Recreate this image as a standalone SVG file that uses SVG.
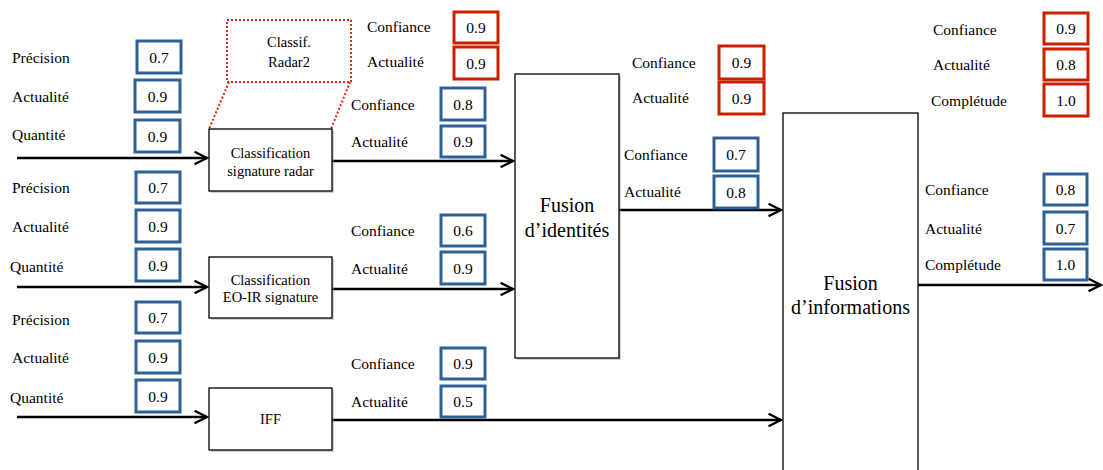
<svg xmlns="http://www.w3.org/2000/svg" width="1103" height="470" viewBox="0 0 1103 470">
<defs>
<style>
text{font-family:"Liberation Serif","Times New Roman",serif;fill:#000}
.lbl{font-size:15.5px}
.val{font-size:15.5px;text-anchor:middle}
.nt{font-size:14.5px;text-anchor:middle}
.big{font-size:20px;text-anchor:middle}
.vb{fill:#fff;stroke:#2e6096;stroke-width:3}
.vr{fill:#fff;stroke:#cc1f00;stroke-width:3}
.node{fill:#fff;stroke:#000;stroke-width:1.3}
.shadow{fill:#999;opacity:0.45}
.conn{stroke:#000;stroke-width:2.6;fill:none;marker-end:url(#arr)}
.dot{stroke:#d42a12;stroke-width:2;stroke-dasharray:2 2;fill:none}
</style>
<marker id="arr" viewBox="0 0 10 10" refX="9" refY="5" markerWidth="6" markerHeight="6" orient="auto" markerUnits="strokeWidth">
<path d="M1,1 L9,5 L1,9" fill="none" stroke="#000" stroke-width="1.5"/>
</marker>
</defs>

<g id="connectors">
<line class="conn" x1="17" y1="158" x2="207" y2="158"/>
<line class="conn" x1="17" y1="287" x2="207" y2="287"/>
<line class="conn" x1="17" y1="417" x2="207" y2="417"/>
<line class="conn" x1="332" y1="161" x2="513" y2="161"/>
<line class="conn" x1="332" y1="289" x2="513" y2="289"/>
<line class="conn" x1="332" y1="420" x2="781" y2="420"/>
<line class="conn" x1="619" y1="210" x2="781" y2="210"/>
<line class="conn" x1="918" y1="285" x2="1101" y2="285"/>
<line class="dot" x1="229" y1="82" x2="209" y2="129"/>
<line class="dot" x1="350" y1="82" x2="331" y2="129"/>
</g>

<g id="classif-radar2">
<rect class="dot" x="227" y="20" width="124" height="62"/>
<text class="nt" x="289" y="47">Classif.</text>
<text class="nt" x="289" y="67">Radar2</text>
</g>

<g id="classif-radar">
<rect class="shadow" x="211" y="131" width="123" height="62"/>
<rect class="node" x="209" y="129" width="123" height="62"/>
<text class="nt" x="270.5" y="158">Classification</text>
<text class="nt" x="270.5" y="176">signature radar</text>
</g>

<g id="classif-eoir">
<rect class="shadow" x="211" y="259" width="123" height="61"/>
<rect class="node" x="209" y="257" width="123" height="61"/>
<text class="nt" x="270.5" y="285">Classification</text>
<text class="nt" x="270.5" y="302">EO-IR signature</text>
</g>

<g id="iff">
<rect class="shadow" x="211" y="390" width="123" height="62"/>
<rect class="node" x="209" y="388" width="123" height="62"/>
<text class="nt" x="270.5" y="424">IFF</text>
</g>

<g id="fusion-identites">
<rect class="shadow" x="517" y="76" width="104" height="284"/>
<rect class="node" x="515" y="74" width="104" height="284"/>
<text class="big" x="567" y="212">Fusion</text>
<text class="big" x="567" y="237">d’identités</text>
</g>

<g id="fusion-informations">
<rect class="node" x="783" y="113" width="135" height="362"/>
<text class="big" x="850.5" y="290">Fusion</text>
<text class="big" x="850.5" y="314">d’informations</text>
</g>

<g id="input-radar">
<text class="lbl" x="12" y="63">Précision</text>
<text class="lbl" x="12" y="102">Actualité</text>
<text class="lbl" x="12" y="140">Quantité</text>
<rect class="vb" x="137" y="41" width="44" height="32"/><text class="val" x="159" y="63">0.7</text>
<rect class="vb" x="135" y="80" width="45" height="32"/><text class="val" x="157.5" y="102">0.9</text>
<rect class="vb" x="135" y="120" width="45" height="32"/><text class="val" x="157.5" y="142">0.9</text>
</g>

<g id="input-eoir">
<text class="lbl" x="12" y="193">Précision</text>
<text class="lbl" x="12" y="232">Actualité</text>
<text class="lbl" x="10" y="272">Quantité</text>
<rect class="vb" x="136" y="172" width="44" height="31"/><text class="val" x="158" y="193">0.7</text>
<rect class="vb" x="136" y="210" width="44" height="32"/><text class="val" x="158" y="232">0.9</text>
<rect class="vb" x="136" y="249" width="44" height="32"/><text class="val" x="158" y="271">0.9</text>
</g>

<g id="input-iff">
<text class="lbl" x="12" y="325">Précision</text>
<text class="lbl" x="12" y="363">Actualité</text>
<text class="lbl" x="10" y="403">Quantité</text>
<rect class="vb" x="136" y="302" width="44" height="31"/><text class="val" x="158" y="323">0.7</text>
<rect class="vb" x="136" y="341" width="44" height="32"/><text class="val" x="158" y="363">0.9</text>
<rect class="vb" x="136" y="380" width="44" height="32"/><text class="val" x="158" y="402">0.9</text>
</g>

<g id="out-radar2">
<text class="lbl" x="367" y="32">Confiance</text>
<text class="lbl" x="367" y="67">Actualité</text>
<rect class="vr" x="454" y="12" width="44" height="31"/><text class="val" x="476" y="33">0.9</text>
<rect class="vr" x="454" y="47" width="44" height="32"/><text class="val" x="476" y="69">0.9</text>
</g>

<g id="out-radar">
<text class="lbl" x="351" y="110">Confiance</text>
<text class="lbl" x="351" y="147">Actualité</text>
<rect class="vb" x="441" y="88" width="44" height="32"/><text class="val" x="463" y="110">0.8</text>
<rect class="vb" x="441" y="126" width="44" height="31"/><text class="val" x="463" y="147">0.9</text>
</g>

<g id="out-eoir">
<text class="lbl" x="351" y="236">Confiance</text>
<text class="lbl" x="351" y="274">Actualité</text>
<rect class="vb" x="441" y="215" width="44" height="31"/><text class="val" x="463" y="236">0.6</text>
<rect class="vb" x="441" y="252" width="44" height="32"/><text class="val" x="463" y="274">0.9</text>
</g>

<g id="out-iff">
<text class="lbl" x="351" y="369">Confiance</text>
<text class="lbl" x="351" y="407">Actualité</text>
<rect class="vb" x="441" y="348" width="44" height="31"/><text class="val" x="463" y="369">0.9</text>
<rect class="vb" x="441" y="386" width="44" height="31"/><text class="val" x="463" y="407">0.5</text>
</g>

<g id="out-fusion-id-red">
<text class="lbl" x="632" y="68">Confiance</text>
<text class="lbl" x="632" y="103">Actualité</text>
<rect class="vr" x="719" y="46" width="45" height="33"/><text class="val" x="741.5" y="68">0.9</text>
<rect class="vr" x="719" y="82" width="45" height="32"/><text class="val" x="741.5" y="104">0.9</text>
</g>

<g id="out-fusion-id">
<text class="lbl" x="624" y="160">Confiance</text>
<text class="lbl" x="624" y="197">Actualité</text>
<rect class="vb" x="714" y="138" width="44" height="33"/><text class="val" x="736" y="160">0.7</text>
<rect class="vb" x="714" y="176" width="44" height="32"/><text class="val" x="736" y="198">0.8</text>
</g>

<g id="out-fusion-info-red">
<text class="lbl" x="933" y="35">Confiance</text>
<text class="lbl" x="933" y="70">Actualité</text>
<text class="lbl" x="931" y="106">Complétude</text>
<rect class="vr" x="1044" y="13" width="44" height="31"/><text class="val" x="1066" y="34">0.9</text>
<rect class="vr" x="1044" y="49" width="44" height="31"/><text class="val" x="1066" y="70">0.8</text>
<rect class="vr" x="1044" y="84" width="44" height="32"/><text class="val" x="1066" y="106">1.0</text>
</g>

<g id="out-fusion-info">
<text class="lbl" x="925" y="195">Confiance</text>
<text class="lbl" x="925" y="234">Actualité</text>
<text class="lbl" x="925" y="270">Complétude</text>
<rect class="vb" x="1044" y="174" width="43" height="31"/><text class="val" x="1065.5" y="195">0.8</text>
<rect class="vb" x="1044" y="212" width="43" height="32"/><text class="val" x="1065.5" y="234">0.7</text>
<rect class="vb" x="1044" y="249" width="43" height="31"/><text class="val" x="1065.5" y="270">1.0</text>
</g>
</svg>
